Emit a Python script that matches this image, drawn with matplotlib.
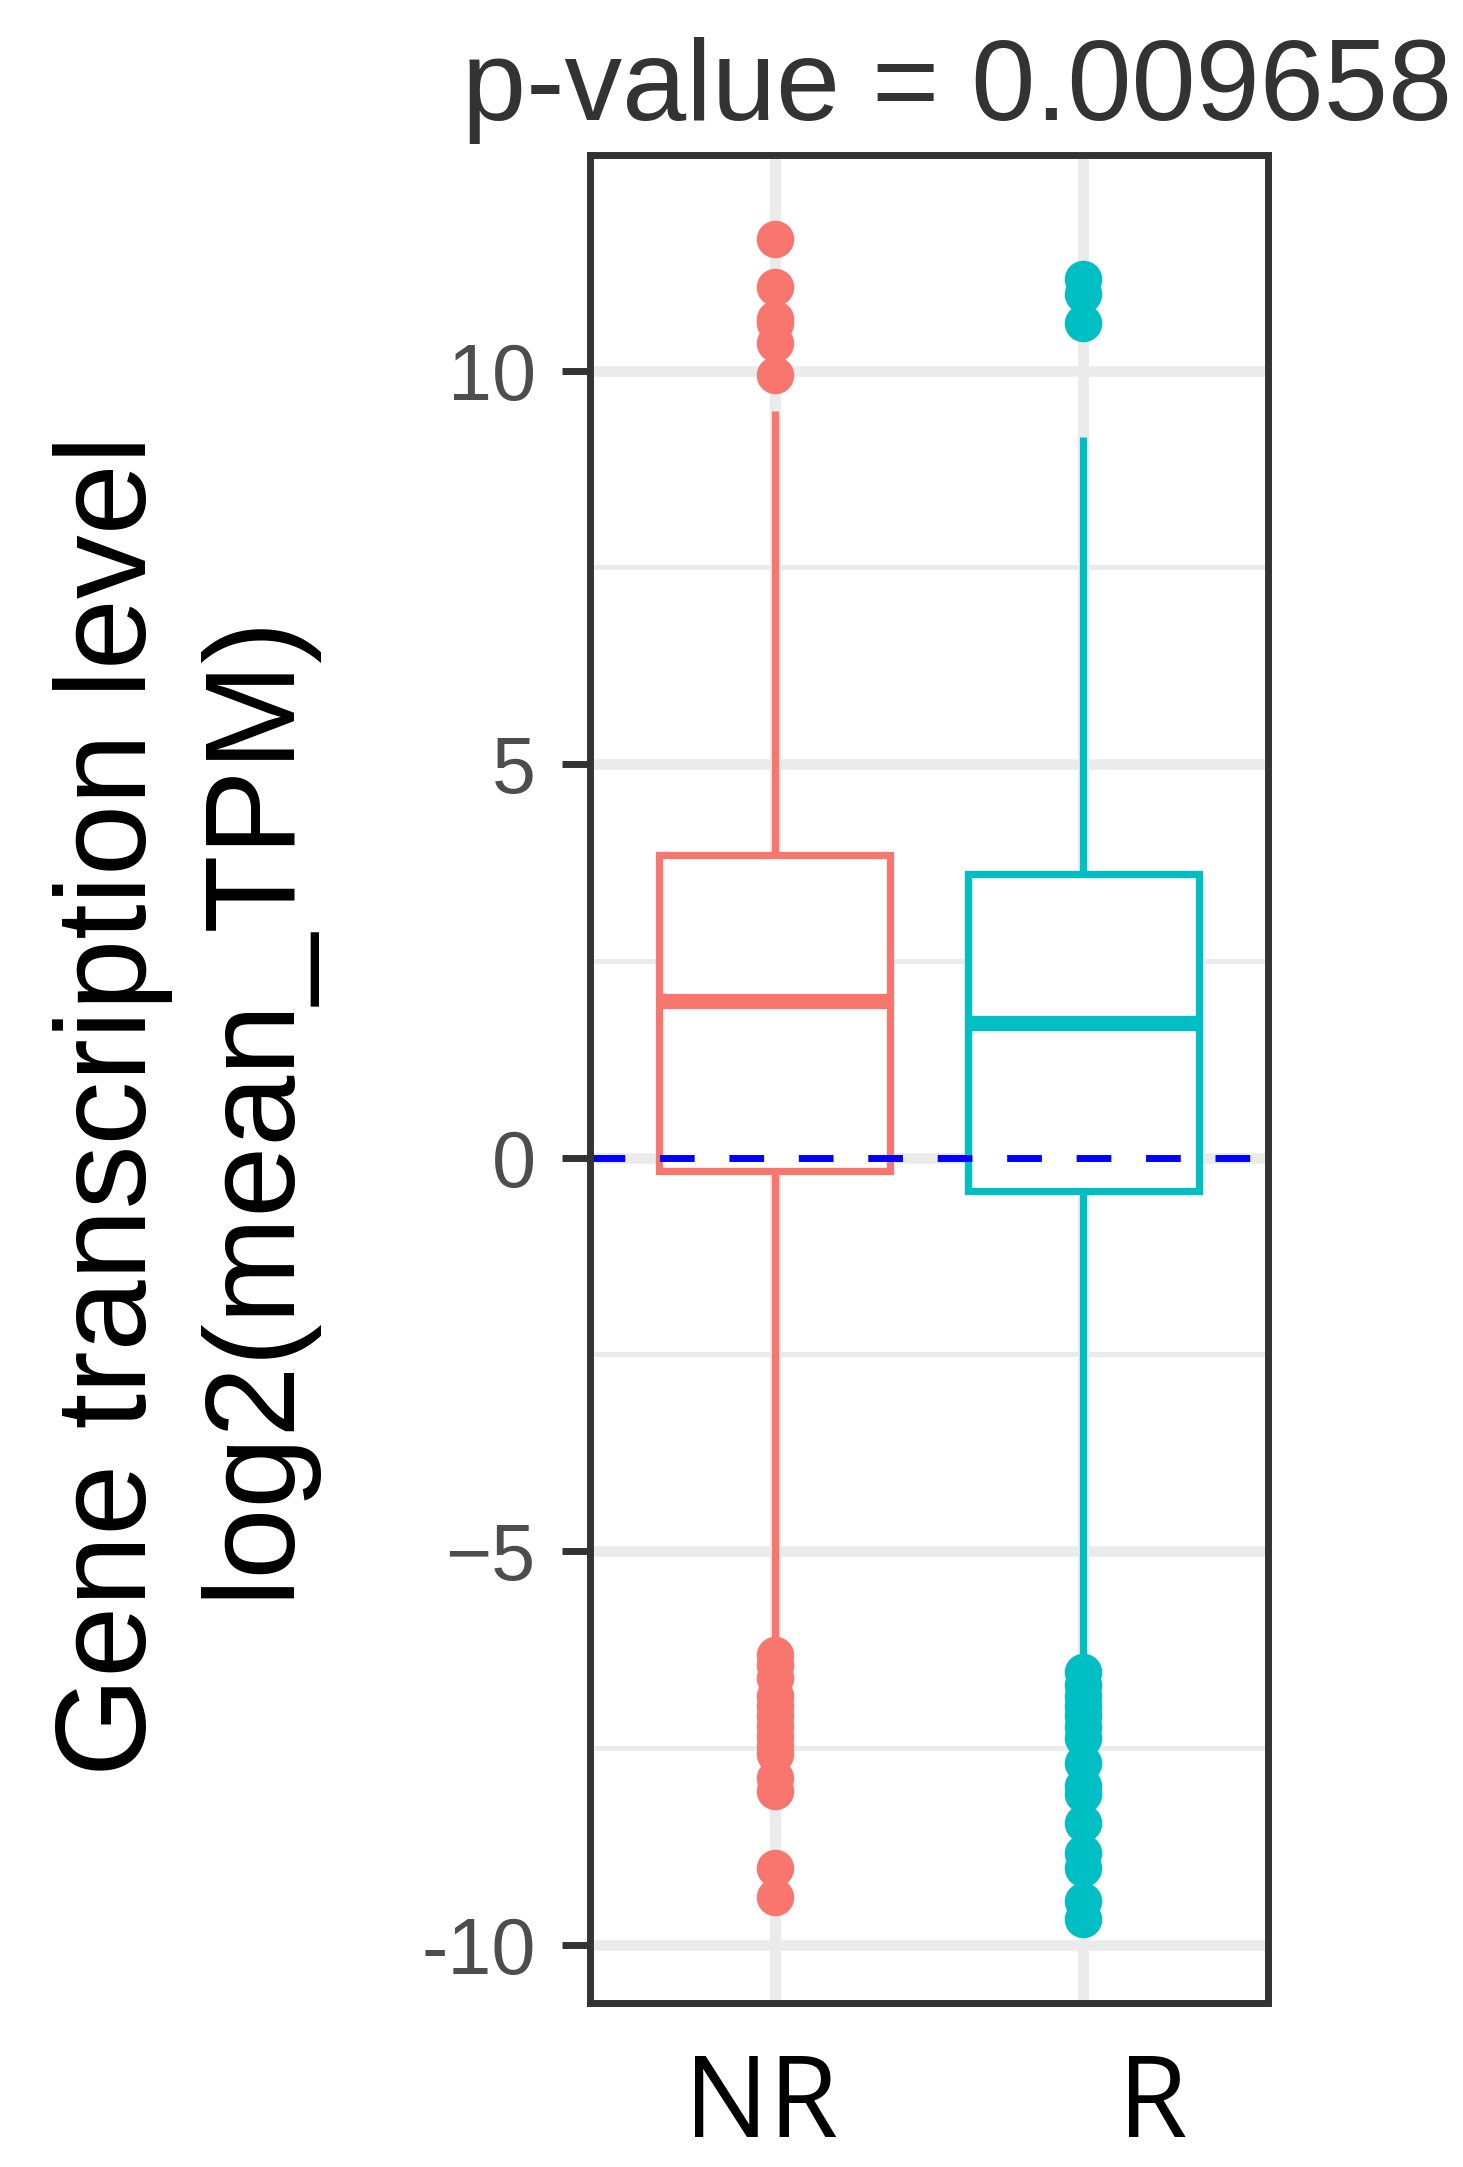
import matplotlib.pyplot as plt
from matplotlib.transforms import ScaledTranslation

# values
groups = ['NR', 'R']
colors = ['#F8766D', '#00BFC4']
q1 = [-0.17, -0.43]
median = [1.99, 1.71]
q3 = [3.84, 3.61]
whisker_low = [-6.12, -6.34]
whisker_high = [9.49, 9.16]
outliers_nr = [11.67, 11.06, 10.66, 10.60, 10.35, 9.95,
               -6.32, -6.44, -6.61, -6.84, -6.97, -7.10, -7.22, -7.35,
               -7.48, -7.58, -7.88, -8.05, -9.02, -9.39]
outliers_r = [11.16, 10.97, 10.61,
              -6.53, -6.70, -6.84, -6.97, -7.10, -7.24, -7.37, -7.69,
              -7.98, -8.09, -8.45, -8.83, -9.02, -9.44, -9.67]
title = "p-value = 0.009658"
ylabel = "Gene transcription level\nlog2(mean_TPM)"

fig = plt.figure(figsize=(14.63, 21.67), dpi=100)
ax = fig.add_axes([0.4033, 0.0757, 0.4634, 0.8528])

# grid like theme_bw
for y in [-7.5, -2.5, 2.5, 7.5]:
    ax.axhline(y, color='#EBEBEB', lw=3.6, zorder=0)
for y in [-10, -5, 0, 5, 10]:
    ax.axhline(y, color='#EBEBEB', lw=7.6, zorder=0)
for x in [1, 2]:
    ax.axvline(x, color='#EBEBEB', lw=7.9, zorder=0)

fliers = [outliers_nr, outliers_r]
for i in range(2):
    stats = [dict(med=median[i], q1=q1[i], q3=q3[i],
                  whislo=whisker_low[i], whishi=whisker_high[i],
                  fliers=fliers[i])]
    c = colors[i]
    ax.bxp(stats, positions=[i + 1], widths=0.75, patch_artist=True,
           showcaps=False,
           boxprops=dict(facecolor='white', edgecolor=c, linewidth=5.2),
           whiskerprops=dict(color=c, linewidth=5.2, solid_capstyle='butt'),
           medianprops=dict(color=c, linewidth=11, solid_capstyle='butt'),
           flierprops=dict(marker='o', markerfacecolor=c, markeredgecolor=c,
                           markersize=27, markeredgewidth=0))

ax.axhline(0, color='blue', lw=5, dashes=(5, 5), zorder=5)

ax.set_xlim(0.4, 2.6)
ax.set_ylim(-10.74, 12.74)
ax.set_yticks([-10, -5, 0, 5, 10])
ax.set_yticklabels(['-10', '\u22125', '0', '5', '10'])
ax.set_xticks([1, 2])
ax.set_xticklabels(groups)

for s in ax.spines.values():
    s.set_color('#333333')
    s.set_linewidth(5)
    s.set_zorder(10)

ax.tick_params(axis='y', length=20, width=5, color='#333333', pad=19,
               labelsize=57, labelcolor='#4D4D4D')
ax.tick_params(axis='x', length=0, pad=34, labelsize=81, labelcolor='black')
for lab in ax.get_yticklabels():
    lab.set_fontfamily('Liberation Sans')
xlabs = ax.get_xticklabels()
shifts = [-0.14, 0.70]
for lab, dx in zip(xlabs, shifts):
    lab.set_fontfamily('Open Sans')
    lab.set_transform(lab.get_transform() + ScaledTranslation(dx, 0, fig.dpi_scale_trans))

fig.text(957 / 1463, 1 - 120 / 2167, title, ha='center', va='baseline',
         fontsize=83, color='#333333', family='Liberation Sans')
fig.text(183 / 1463, 1 - 1105 / 2167, ylabel, rotation=90, ha='center',
         va='center', multialignment='center', fontsize=92, color='black',
         family='Liberation Sans', linespacing=1.22)

fig.savefig('out.png', dpi=100, facecolor='white')
